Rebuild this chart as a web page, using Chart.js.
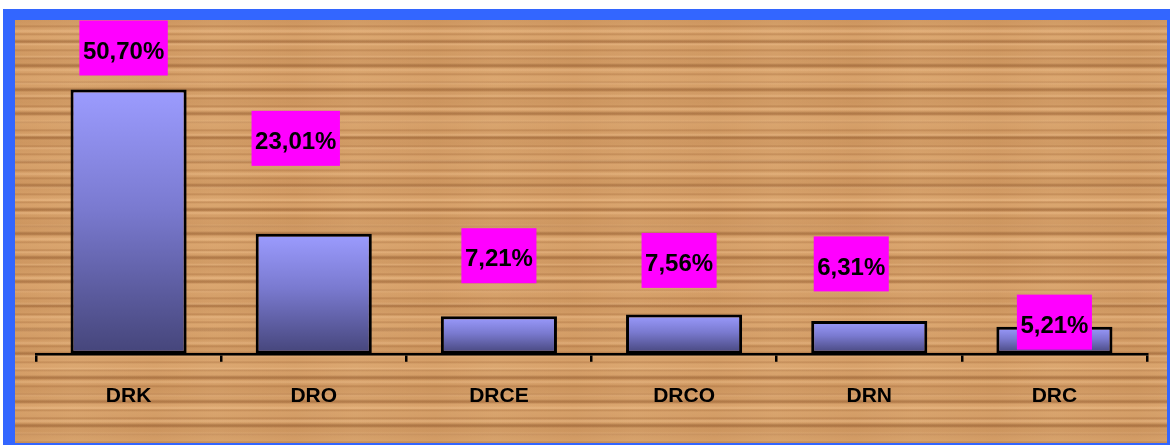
<!DOCTYPE html>
<html>
<head>
<meta charset="utf-8">
<script src="https://cdn.jsdelivr.net/npm/chart.js@4"></script>
<style>
    body { margin: 0; background: #fff; width: 1170px; height: 445px; overflow: hidden; }
    /* blue frame around a wood-ish panel, the texture is only approximated with stripes */
    #frame {
        position: absolute; left: 3px; top: 9px;
        width: 1152px; height: 423px;
        border-style: solid; border-color: #3366ff;
        border-width: 11px 3px 2px 12px;
        background-color: #d49d66;
        background-image:
            repeating-linear-gradient(180deg, rgba(140,80,35,0) 0px, rgba(140,80,35,0) 5px, rgba(140,80,35,0.30) 6px, rgba(140,80,35,0) 8px),
            repeating-linear-gradient(180deg, rgba(245,200,150,0) 0px, rgba(245,200,150,0) 9px, rgba(245,200,150,0.40) 11px, rgba(245,200,150,0) 13px),
            repeating-linear-gradient(180deg, rgba(115,60,20,0) 0px, rgba(115,60,20,0) 19px, rgba(115,60,20,0.35) 21px, rgba(115,60,20,0) 24px),
            repeating-linear-gradient(180deg, rgba(150,90,40,0.12) 0px, rgba(235,185,130,0.18) 17px, rgba(150,90,40,0.12) 41px),
            repeating-linear-gradient(90deg, rgba(255,220,170,0) 0px, rgba(255,220,170,0.10) 60px, rgba(255,220,170,0) 140px);
    }
    canvas { display: block; }
</style>
</head>
<body>
<div id="frame"><canvas id="chart" width="1152" height="423"></canvas></div>
<script>
// Share per category
let categories = ["DRK", "DRO", "DRCE", "DRCO", "DRN", "DRC"]
let shares = [50.70, 23.01, 7.21, 7.56, 6.31, 5.21]
let share_labels = ["50,70%", "23,01%", "7,21%", "7,56%", "6,31%", "5,21%"]

// The labels were dragged around by hand in the original, so each one gets its own
// nudge (px) from the top centre of its bar.
let label_nudge = [[-5, -41.5], [-18, -95.5], [0, -60.5], [-5, -54], [-18, -57], [0, -4.5]]

const FONT = '"Comic Sans MS", "Liberation Sans", Arial, sans-serif'

function bar_fill(ctx) {
    let chart = ctx.chart
    let y = chart.scales.y
    if (!chart.chartArea || !y || ctx.raw == undefined) {
        return "#7777cc"
    }
    let top = y.getPixelForValue(ctx.raw)
    let bottom = y.getPixelForValue(0)
    let g = chart.ctx.createLinearGradient(0, top, 0, bottom)
    g.addColorStop(0, "#9c9cff")
    g.addColorStop(0.45, "#7a7ad0")
    g.addColorStop(1, "#45457a")
    return g
}

// Magenta boxes with the percentage text
let box_labels = {
    id: "box_labels",
    afterDatasetsDraw(chart) {
        let c = chart.ctx
        let meta = chart.getDatasetMeta(0)
        c.save()
        c.font = "bold 24px " + FONT
        c.textAlign = "center"
        c.textBaseline = "middle"
        meta.data.forEach((bar, i) => {
            let txt = share_labels[i]
            let cx = bar.x + label_nudge[i][0]
            let cy = bar.y + label_nudge[i][1]
            let w = c.measureText(txt).width + 7
            let h = 55
            c.fillStyle = "#ff00ff"
            c.fillRect(cx - w / 2, cy - h / 2, w, h)
            c.fillStyle = "#000"
            c.fillText(txt, cx, cy + 4)
        })
        c.restore()
    }
}

new Chart(document.getElementById("chart"), {
    type: "bar",
    data: {
        labels: categories,
        datasets: [{
            data: shares,
            backgroundColor: bar_fill,
            borderColor: "#000",
            borderWidth: 3,
            borderSkipped: false,
            categoryPercentage: 1,
            barPercentage: 0.627,
        }]
    },
    options: {
        responsive: false,
        animation: false,
        layout: { padding: { left: 21, right: 20, top: 21, bottom: 12 } },
        plugins: {
            legend: { display: false },
            tooltip: { enabled: false },
        },
        scales: {
            x: {
                grid: {
                    drawOnChartArea: false,
                    drawTicks: true,
                    tickLength: 8,
                    color: "#000",
                    lineWidth: 2.5,
                },
                border: { display: true, color: "#000", width: 2.5 },
                ticks: {
                    color: "#000",
                    padding: 22,
                    font: { family: FONT, size: 21, weight: "bold" },
                },
            },
            y: {
                display: false,
                min: 0,
                max: 60,
            }
        }
    },
    plugins: [box_labels]
})
</script>
</body>
</html>
